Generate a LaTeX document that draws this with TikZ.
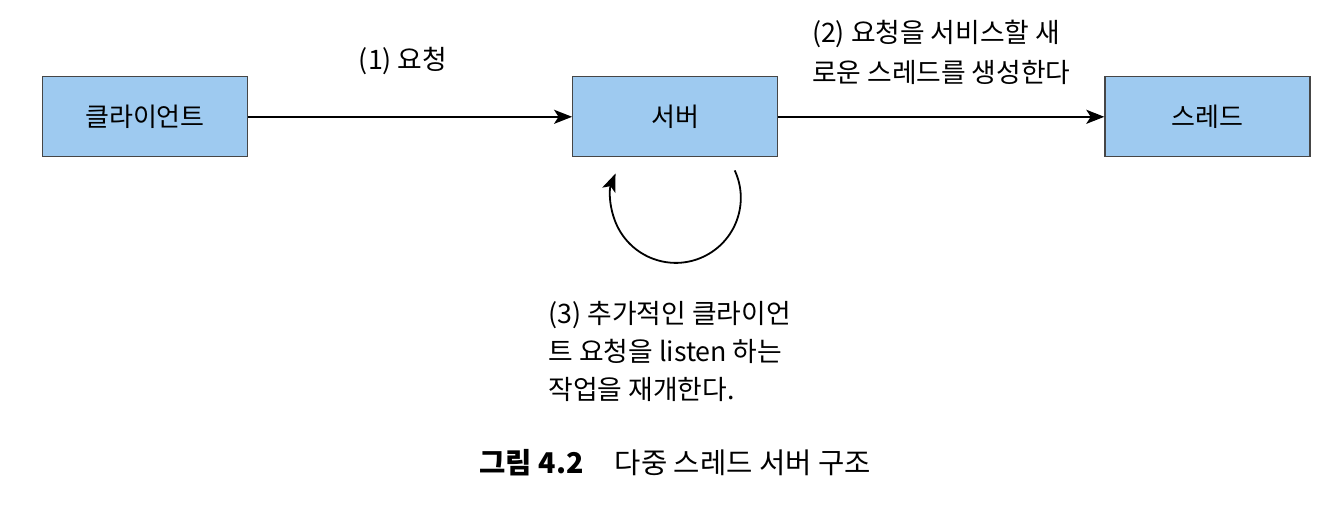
\documentclass[tikz,border=0pt]{standalone}
\usepackage{fontspec}
\usepackage{tikz}
\usepackage{xcolor}
\usetikzlibrary{arrows.meta, positioning}

\setmainfont{Noto Sans CJK KR}
\definecolor{boxblue}{RGB}{158,202,240}
\definecolor{boxline}{RGB}{70,70,70}

\tikzset{
  block/.style={draw=boxline, line width=0.6pt, fill=boxblue,
    minimum width=102.5pt, minimum height=40pt,
    font=\fontsize{13}{15}\selectfont},
  msg/.style={inner sep=0pt, align=left, font=\fontsize{13.4}{20}\selectfont},
  flow/.style={line width=1pt, -{Stealth[length=9pt, width=7pt, inset=2.2pt]}}
}

\begin{document}
\begin{tikzpicture}
\useasboundingbox (0,0) rectangle (671pt,-260pt);
\node[block] (client) at (72.5pt,-58.4pt) {클라이언트};
\node[block, right=162pt of client] (server) {서버};
\node[block, right=163pt of server] (thread) {스레드};

% Requests
\draw[flow] (client) -- node[msg, above=20.5pt, xshift=-3.5pt] {(1) 요청} (server);
\draw[flow] (server) -- node[msg, above=15.5pt] {(2) 요청을 서비스할 새\\로운 스레드를 생성한다} (thread);

% Server goes back to listening
\draw[flow, line width=0.9pt] ([xshift=29.75pt, yshift=-6.5pt]server.south) arc[start angle=25, end angle=-202, radius=32.5pt];
\node[msg, font=\fontsize{13.4}{19}\selectfont, below right=72pt and -12pt of server.south west] (listen)
  {(3) 추가적인 클라이언\\트 요청을 listen 하는\\작업을 재개한다.};

% Figure caption
\coordinate (capline) at (0,-231.5pt);
\node[msg, font=\fontsize{14.3}{18}\selectfont] (caption) at (server |- capline)
  {\textbf{그림 4.2}\hspace{1.1em}다중 스레드 서버 구조};
\end{tikzpicture}
\end{document}
